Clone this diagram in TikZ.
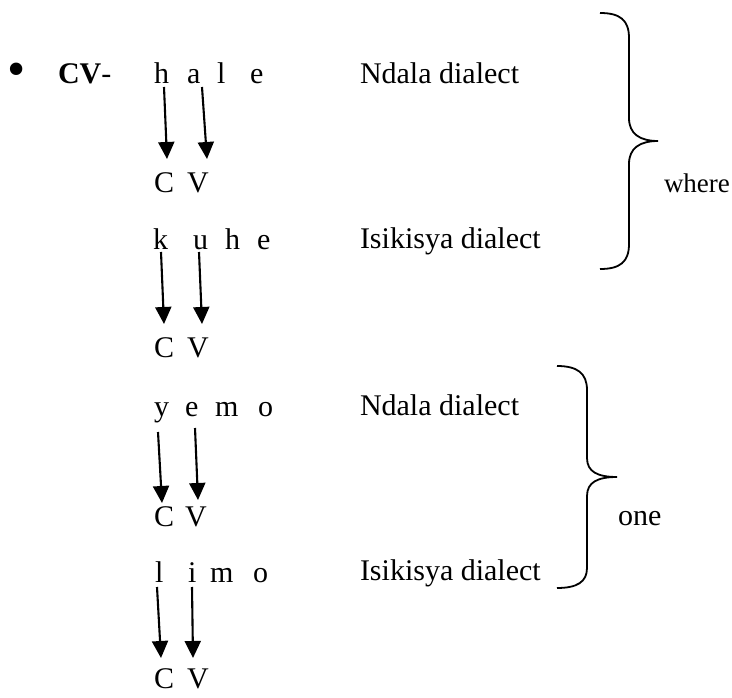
\documentclass[tikz,border=0pt]{standalone}
\usepackage{fontspec}
\setmainfont{Liberation Serif}
\usetikzlibrary{arrows.meta}
\begin{document}
\begin{tikzpicture}[x=1pt,y=-1pt,
  lt/.style={anchor=base west,inner sep=0pt,outer sep=0pt,font=\fontsize{30}{36}\selectfont},
  arr/.style={line width=2.1pt,-{Triangle[width=16pt,length=17pt]}},
  brace/.style={line width=1.8pt}]
\useasboundingbox (0,0) rectangle (732,698);
% bullet and label
\node[anchor=center,inner sep=0pt,font=\fontsize{52}{56}\selectfont] (bul) at (17,75) {•};
\node[lt] (cv) at (58,84) {\textbf{CV}-};
% row 1
\node[lt] (h1) at (154,84) {h};
\node[lt] (a1) at (187,84) {a};
\node[lt] (l1) at (217,84) {l};
\node[lt] (e1) at (250,84) {e};
\node[lt] (d1) at (360,84) {Ndala dialect};
\node[lt] (C1) at (154,193) {C};
\node[lt] (V1) at (187,193) {V};
\draw[arr] ([shift={(10,3)}]h1.base west) -- ([shift={(13,-34)}]C1.base west);
\draw[arr] ([shift={(15,3)}]a1.base west) -- ([shift={(20,-34)}]V1.base west);
% row 2
\node[lt] (k2) at (153,250) {k};
\node[lt] (u2) at (193,250) {u};
\node[lt] (h2) at (225,250) {h};
\node[lt] (e2) at (257,250) {e};
\node[lt] (d2) at (360,249) {Isikisya dialect};
\node[lt] (C2) at (154,357) {C};
\node[lt] (V2) at (187,357) {V};
\draw[arr] ([shift={(8,2)}]k2.base west) -- ([shift={(10,-33)}]C2.base west);
\draw[arr] ([shift={(6,2)}]u2.base west) -- ([shift={(15,-33)}]V2.base west);
% row 3
\node[lt] (y3) at (154,416) {y};
\node[lt] (e3) at (185,416) {e};
\node[lt] (m3) at (215,416) {m};
\node[lt] (o3) at (258,416) {o};
\node[lt] (d3) at (360,415) {Ndala dialect};
\node[lt] (C3) at (154,526) {C};
\node[lt] (V3) at (185,526) {V};
\draw[arr] ([shift={(4,16)}]y3.base west) -- ([shift={(8,-23)}]C3.base west);
\draw[arr] ([shift={(10,12)}]e3.base west) -- ([shift={(13,-26)}]V3.base west);
% row 4
\node[lt] (l4) at (155,582) {l};
\node[lt] (i4) at (188,582) {i};
\node[lt] (m4) at (210,582) {m};
\node[lt] (o4) at (253,582) {o};
\node[lt] (d4) at (360,580) {Isikisya dialect};
\node[lt] (C4) at (154,688) {C};
\node[lt] (V4) at (187,688) {V};
\draw[arr] ([shift={(2,5)}]l4.base west) -- ([shift={(7,-30)}]C4.base west);
\draw[arr] ([shift={(4,5)}]i4.base west) -- ([shift={(6,-30)}]V4.base west);
% brace 1
\draw[brace] (600,13) .. controls (620,13) and (629,20) .. (629,38) -- (629,118)
  .. controls (629,134) and (640,141) .. (658,141)
  .. controls (640,141) and (629,148) .. (629,164) -- (629,244)
  .. controls (629,262) and (620,269) .. (600,269);
\node[lt,font=\fontsize{27}{32}\selectfont] (w) at (664,193) {where};
% brace 2
\draw[brace] (557,366) .. controls (577,366) and (587,373) .. (587,390) -- (587,458)
  .. controls (587,472) and (598,477) .. (617,477)
  .. controls (598,477) and (587,482) .. (587,496) -- (587,568)
  .. controls (587,582) and (577,588) .. (557,588);
\node[lt] (one) at (618,525) {one};
\end{tikzpicture}
\end{document}
